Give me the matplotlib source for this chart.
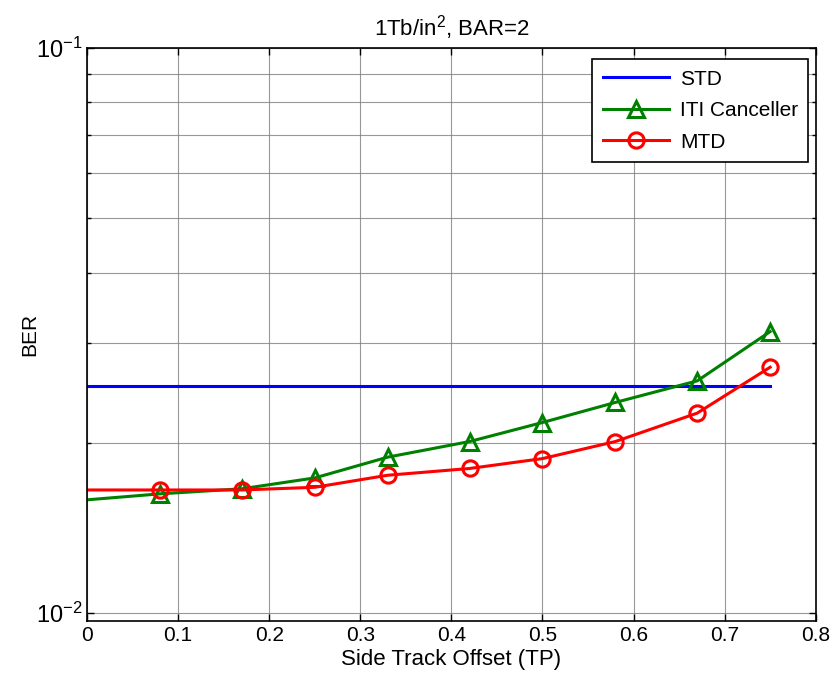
import matplotlib
matplotlib.use("Agg")
import matplotlib.pyplot as plt
from matplotlib.ticker import LogLocator, FixedLocator, NullFormatter, FuncFormatter
import math

plt.rcParams['font.family'] = ['Liberation Sans', 'DejaVu Sans']
plt.rcParams['mathtext.default'] = 'regular'
plt.rcParams['axes.unicode_minus'] = False

# Side track offset (in track pitches)
offset = [0.0, 0.08, 0.17, 0.25, 0.33, 0.42, 0.5, 0.58, 0.67, 0.75]

# BER per detector
ber_std = [0.0252, 0.0252]
std_x = [0.0, 0.75]
ber_iti = [0.01587, 0.01626, 0.0166, 0.01735, 0.01888, 0.02012, 0.02174, 0.02359, 0.02576, 0.03148]
ber_mtd = [0.01652, 0.01652, 0.01652, 0.0167, 0.01754, 0.01803, 0.01877, 0.02012, 0.02259, 0.02723]

x_ticks = [0, 0.1, 0.2, 0.3, 0.4, 0.5, 0.6, 0.7, 0.8]
x_tick_labels = ['0', '0.1', '0.2', '0.3', '0.4', '0.5', '0.6', '0.7', '0.8']

fig = plt.figure(figsize=(8.36, 6.84), dpi=100)
ax = fig.add_axes([0.1041, 0.0921, 0.9757 - 0.1041, 0.9303 - 0.0921])

ax.plot(std_x, ber_std, color='#0000ff', lw=2.2, label='STD')
ax.plot(offset, ber_iti, color='#008000', lw=2.2, marker='^', ms=12,
        mfc='none', mew=2.2, markevery=list(range(1, len(offset))), label='ITI Canceller')
ax.plot(offset, ber_mtd, color='#ff0000', lw=2.2, marker='o', ms=11,
        mfc='none', mew=2.2, markevery=list(range(1, len(offset))), label='MTD')

ax.set_yscale('log')
ax.set_xlim(0, 0.8)
ax.set_ylim(0.00969, 0.1)
ax.xaxis.set_major_locator(FixedLocator(x_ticks))
ax.set_xticklabels(x_tick_labels)
ax.yaxis.set_major_locator(LogLocator(base=10, numticks=5))
ax.yaxis.set_major_formatter(FuncFormatter(
    lambda v, p: '$10^{%d}$' % int(round(math.log10(v)))))
ax.yaxis.set_minor_locator(LogLocator(base=10, subs=range(2, 10), numticks=20))
ax.yaxis.set_minor_formatter(NullFormatter())

ax.tick_params(which='both', direction='in', top=True, right=True, labelsize=15)
ax.tick_params(which='major', length=5, width=1)
ax.tick_params(which='minor', length=3, width=1)
ax.tick_params(axis='y', labelsize=17)

ax.grid(True, which='major', color='#7f7f7f', lw=0.8, alpha=0.8)
ax.grid(True, which='minor', axis='y', color='#7f7f7f', lw=0.8, alpha=0.8)
ax.set_axisbelow(True)
for sp in ax.spines.values():
    sp.set_linewidth(1.2)

ax.set_title('1Tb/in$^2$, BAR=2', fontsize=16, pad=9)
ax.set_xlabel('Side Track Offset (TP)', fontsize=16, labelpad=3)
ax.set_ylabel('BER', fontsize=15)
ax.yaxis.set_label_coords(-0.066, 0.5)

leg = ax.legend(loc='upper right', bbox_to_anchor=(0.99, 0.98), fontsize=15,
                fancybox=False, framealpha=1, edgecolor='black', borderaxespad=0.0,
                handlelength=3.2, labelspacing=0.6, borderpad=0.5,
                handletextpad=0.5)
leg.get_frame().set_linewidth(1.2)

fig.savefig('out.png', dpi=100)
